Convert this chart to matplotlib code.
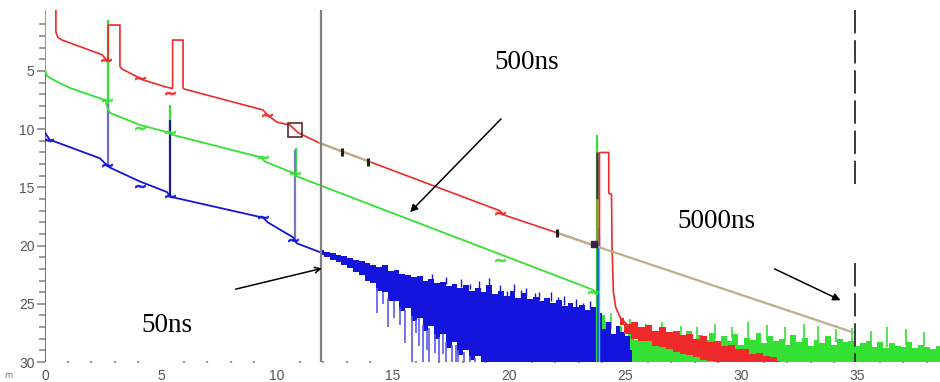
import matplotlib
matplotlib.use("Agg")
import matplotlib.pyplot as plt
import numpy as np
from matplotlib.ticker import FixedLocator

# ---------------- data (distance km, attenuation dB) ----------------
red_x = [0.47, 0.47, 0.55, 0.73, 2.46, 2.63, 2.72, 2.72, 3.23, 3.23, 3.3, 3.97, 4.2, 5.26, 5.5, 5.5,
         5.95, 5.95, 6.0, 9.4, 9.6, 10.0, 10.56, 10.8, 10.9, 11.85, 14.0, 19.6, 19.75, 22.07, 23.6,
         23.9, 23.9, 24.3, 24.3, 24.42, 24.44, 24.5, 24.6, 24.8, 25.1]
red_y = [-0.5, 1.65, 2.1, 2.34, 3.6, 4.0, 4.1, 1.05, 1.05, 4.6, 4.8, 5.5, 5.75, 6.4, 6.5, 2.34,
         2.34, 6.45, 6.55, 8.35, 8.8, 9.4, 9.64, 10.1, 10.3, 11.2, 12.8, 17.0, 17.35, 18.9, 19.95,
         20.1, 12.0, 12.0, 15.5, 15.6, 20.0, 24.0, 25.3, 26.2, 26.8]

green_x = [0.0, 0.0, 0.08, 0.22, 0.6, 1.08, 2.59, 2.72, 2.8, 4.1, 5.26, 5.52, 9.27, 9.5, 10.69,
           10.78, 23.62, 23.8]
green_y = [-0.5, 4.9, 5.4, 5.6, 6.0, 6.46, 7.5, 8.3, 8.6, 9.64, 10.25, 10.5, 12.4, 12.8, 13.76,
           14.0, 23.8, 24.2]

blue_x = [0.0, 0.2, 2.37, 2.67, 2.8, 4.1, 5.26, 5.4, 9.4, 9.6, 10.7, 10.85, 11.9]
blue_y = [10.3, 10.9, 12.5, 13.1, 13.3, 14.5, 15.4, 15.8, 17.6, 18.0, 19.3, 19.8, 20.6]

tan_x1 = [11.85, 14.0]
tan_y1 = [11.2, 12.8]
tan_x2 = [22.07, 23.6, 34.9]
tan_y2 = [18.9, 19.95, 27.5]

# reflective spikes: (x, from, to)
green_spk_x = [2.72, 5.39, 10.8, 23.8]
green_spk_lo = [8.3, 10.3, 14.0, 30.0]
green_spk_hi = [0.6, 7.9, 11.6, 10.5]
blue_spk_x = [2.72, 5.39, 10.78, 23.82]
blue_spk_lo = [13.2, 15.75, 19.5, 30.0]
blue_spk_hi = [7.8, 9.2, 11.8, 18.5]

# blue noise band
blue_nx = [11.9, 12.15, 12.4, 12.65, 12.9, 13.15, 13.4, 13.65, 13.9, 14.15, 14.4, 14.65, 14.9,
           15.15, 15.4, 15.65, 15.9, 16.15, 16.4, 16.65, 16.9, 17.15, 17.4, 17.65, 17.9, 18.15,
           18.4, 18.65, 18.9, 19.15, 19.4, 19.65, 19.9, 20.15, 20.4, 20.65, 20.9, 21.15, 21.4,
           21.65, 21.9, 22.15, 22.4, 22.65, 22.9, 23.15, 23.4, 23.65, 23.9]
blue_ntop = [20.4, 20.55, 20.6, 20.8, 20.9, 21.1, 21.2, 21.3, 21.5, 21.7, 21.8, 21.7, 22.2,
             22.1, 22.4, 22.5, 22.7, 22.6, 23.0, 22.9, 23.2, 23.1, 23.5, 23.3, 23.6, 23.4,
             23.9, 23.6, 24.0, 23.4, 24.2, 23.9, 24.3, 23.9, 24.5, 24.1, 24.6, 24.4, 24.8,
             24.5, 24.9, 24.7, 25.2, 24.9, 25.3, 25.1, 25.5, 25.3, 25.7]
blue_nbot = [20.8, 21.0, 21.2, 21.4, 21.7, 21.9, 22.3, 22.5, 23.0, 23.2, 23.9, 24.0, 24.8,
             24.8, 25.6, 25.4, 26.5, 26.2, 27.3, 26.9, 28.0, 27.6, 28.8, 28.3, 29.4, 29.0,
             29.8, 29.5, 30, 30, 30, 30, 30, 30, 30, 30, 30, 30, 30, 30, 30, 30, 30, 30, 30,
             30, 30, 30, 30]
blue_dn_x = [14.3, 14.55, 14.8, 15.05, 15.3, 15.5, 15.8, 16.0, 16.1, 16.3, 16.45, 16.55, 16.8,
             17.0, 17.15, 17.3, 17.55, 17.7, 17.8, 18.05, 18.3, 18.55]
blue_dn_to = [25.8, 25.0, 27.0, 26.2, 26.8, 28.4, 30, 27.5, 28.6, 30, 29.0, 30, 29.2, 30, 29.3,
              30, 30, 30, 30, 30, 30, 30]
blue_up_x = [16.7, 17.3, 17.95, 18.3, 18.7, 19.15, 19.6, 19.9, 20.2, 20.5, 20.75, 21.1, 21.3,
             21.8, 22.1, 22.35, 22.9, 23.2, 23.5]
blue_up_to = [22.4, 22.7, 22.9, 23.3, 23.0, 22.8, 23.4, 23.9, 23.3, 23.8, 23.6, 24.1, 24.0,
              24.0, 24.4, 24.3, 24.6, 24.9, 24.8]
blue_tail_x = [23.9, 24.1, 24.3, 24.5, 24.7, 24.9, 25.1, 25.3]
blue_tail_top = [25.8, 27.2, 26.6, 27.6, 26.9, 27.4, 27.8, 29.0]

# red noise tail
red_nx = [24.8, 25.1, 25.4, 25.7, 26.0, 26.3, 26.6, 26.9, 27.2, 27.5, 27.8, 28.1, 28.4, 28.7,
          29.0, 29.3, 29.6, 29.9, 30.2, 30.5, 30.8, 31.1, 31.4, 31.7]
red_ntop = [26.2, 26.7, 26.6, 27.0, 26.8, 27.3, 27.0, 27.4, 27.3, 27.7, 27.6, 28.0, 27.8, 28.3,
            28.2, 28.6, 28.5, 28.9, 28.9, 29.3, 29.2, 29.5, 29.6, 29.9]
red_nbot = [26.8, 27.6, 28.0, 28.2, 28.2, 28.6, 28.7, 28.9, 29.1, 29.3, 29.4, 29.6, 29.8, 29.9,
            30, 30, 30, 30, 30, 30, 30, 30, 30, 30]

# green noise floor
green_nx = [24.0, 24.25, 24.5, 24.75, 25.0, 25.25, 25.5, 25.75, 26.0, 26.25, 26.5, 26.75, 27.0,
            27.25, 27.5, 27.75, 28.0, 28.25, 28.5, 28.75, 29.0, 29.25, 29.5, 29.75, 30.0, 30.25,
            30.5, 30.75, 31.0, 31.25, 31.5, 31.75, 32.0, 32.25, 32.5, 32.75, 33.0, 33.25, 33.5,
            33.75, 34.0, 34.25, 34.5, 34.75, 35.0, 35.25, 35.5, 35.75, 36.0, 36.25, 36.5, 36.75,
            37.0, 37.25, 37.5, 37.75, 38.0, 38.25, 38.6]
green_ntop = [26.0, 26.6, 27.6, 26.9, 27.9, 27.2, 28.1, 27.4, 28.0, 27.3, 28.3, 27.6, 28.1,
              27.4, 28.2, 27.3, 28.3, 27.7, 28.1, 27.5, 28.4, 27.8, 28.2, 27.6, 28.5, 27.9,
              28.1, 27.5, 28.4, 27.8, 28.2, 28.0, 28.5, 27.7, 28.3, 27.9, 28.6, 28.1, 28.4,
              27.8, 28.5, 28.0, 28.3, 28.2, 28.6, 28.4, 28.2, 28.7, 28.3, 28.8, 28.4, 28.6,
              28.7, 28.3, 28.8, 28.5, 28.7, 28.9, 28.6]
green_sp_x = [24.4, 25.2, 25.9, 26.6, 27.4, 28.1, 28.9, 29.6, 30.3, 31.1, 31.9, 32.7, 33.3,
              34.1, 34.8, 35.6, 36.3, 37.1, 37.9]
green_sp_to = [25.8, 26.3, 26.7, 26.6, 26.9, 27.0, 26.7, 27.0, 26.6, 26.8, 27.0, 26.7, 26.9,
               27.2, 27.1, 27.3, 27.0, 27.2, 27.4]

# event markers
red_ev_x = [2.63, 4.1, 5.39, 9.57, 19.6]
red_ev_y = [4.06, 5.6, 6.9, 8.8, 17.2]
green_ev_x = [2.67, 4.1, 5.39, 9.4, 10.78, 19.6, 23.6]
green_ev_y = [7.5, 9.9, 10.25, 12.4, 13.8, 21.2, 24.0]
blue_ev_x = [0.15, 2.67, 4.1, 5.39, 9.4, 10.7]
blue_ev_y = [10.9, 13.1, 14.9, 15.75, 17.55, 19.5]
bar_x = [12.8, 13.92, 22.07]
bar_y = [11.95, 12.8, 18.9]

xticks = [0, 5, 10, 15, 20, 25, 30, 35]
yticks = [5, 10, 15, 20, 25, 30]

RED = "#ee2a2a"
GREEN = "#35e035"
BLUE = "#1414dc"
TAN = "#bcae8c"

# ---------------- figure ----------------
fig = plt.figure(figsize=(9.4, 3.82), dpi=100)
ax = fig.add_axes([45 / 940, 20 / 382, 895 / 940, 352 / 382])
ax.set_xlim(0, 895 / 23.2)
ax.set_ylim(30, -0.24)
for s in ax.spines.values():
    s.set_visible(False)

# axis-like red line at launch
ax.axvline(0, color=RED, lw=1.3, zorder=3)
ax.plot([0, 0], [-0.3, 2.8], color="#b8a640", lw=1.6, zorder=4)

# noise bands
ax.fill_between(green_nx, green_ntop, 30, color=GREEN, lw=0, step="mid", zorder=2)
ax.vlines(green_sp_x, np.interp(green_sp_x, green_nx, green_ntop), green_sp_to,
          color=GREEN, lw=1.2, zorder=2)
ax.fill_between(blue_nx, blue_ntop, blue_nbot, color=BLUE, lw=0, step="mid", zorder=3)
ax.fill_between(blue_tail_x, blue_tail_top, 30, color=BLUE, lw=0, step="mid", zorder=2.5)
ax.vlines(blue_dn_x, np.interp(blue_dn_x, blue_nx, blue_nbot), blue_dn_to,
          color="#5a5af0", lw=1.2, zorder=3)
ax.vlines(blue_up_x, np.interp(blue_up_x, blue_nx, blue_ntop), blue_up_to,
          color=BLUE, lw=1.0, zorder=3)
ax.fill_between(red_nx, red_ntop, red_nbot, color=RED, lw=0, step="mid", zorder=4)

# spikes
ax.vlines(green_spk_x, green_spk_lo, green_spk_hi, color=GREEN, lw=1.6, zorder=4)
ax.vlines(blue_spk_x, blue_spk_lo, blue_spk_hi,
          colors=["#6a6ad8", "#1a1aa0", "#7a7ab8", "#2a50e0"], lw=1.6, zorder=4.5)
ax.vlines([23.86], [30], [19.0], color="#30c8e8", lw=1.0, zorder=4.5)
ax.vlines([23.78], [16.0], [12.0], color="#3a3a3a", lw=1.8, zorder=5)
ax.vlines([23.78], [19.9], [16.0], color="#8a9a30", lw=1.8, zorder=5)

# main traces
ax.plot(red_x, red_y, color=RED, lw=1.2, zorder=5)
ax.plot(green_x, green_y, color=GREEN, lw=1.3, zorder=5)
ax.plot(blue_x, blue_y, color=BLUE, lw=1.3, zorder=5)
ax.plot(tan_x1, tan_y1, color=TAN, lw=1.6, zorder=6)
ax.plot(tan_x2, tan_y2, color=TAN, lw=1.6, zorder=6)

# event markers
mk = dict(ls="none", marker="$\\sim$", ms=7, alpha=0.8, zorder=7)
ax.plot(red_ev_x, red_ev_y, color=RED, **mk)
ax.plot(green_ev_x, green_ev_y, color=GREEN, **mk)
ax.plot(blue_ev_x, blue_ev_y, color=BLUE, **mk)
ax.plot([10.78], [10.1], ls="none", marker="s", ms=10, mfc="none", mec="#5a2a2a", mew=1.2, zorder=7)
ax.plot(bar_x, bar_y, ls="none", marker="|", ms=6, mew=2.2, color="#202020", zorder=7)
ax.plot([23.65], [19.9], ls="none", marker="s", ms=4, color="#3a2050", zorder=7)

# vertical cursors
ax.axvline(11.9, color="#808080", lw=1.6, zorder=8)
ax.plot([34.9, 34.9], [-0.24, 15.0], color="#3a3a3a", lw=1.4, dashes=(12, 3.5), zorder=8)
ax.plot([34.9, 34.9], [21.5, 30], color="#3a3a3a", lw=1.4, dashes=(12, 3.5), zorder=8)

# annotations
tfont = dict(family="Liberation Serif", size=19.5, color="black")
ax.text(20.78, 4.3, "500ns", ha="center", va="center", zorder=9, **tfont)
ax.text(28.92, 17.95, "5000ns", ha="center", va="center", zorder=9, **tfont)
ax.text(5.26, 26.9, "50ns", ha="center", va="center", zorder=9, **tfont)
ax.annotate("", xy=(15.65, 17.3), xytext=(19.74, 8.95),
            arrowprops=dict(arrowstyle="-|>", color="black", lw=1.1, mutation_scale=11), zorder=9)
ax.annotate("", xy=(12.05, 21.9), xytext=(8.1, 23.8),
            arrowprops=dict(arrowstyle="->", color="black", lw=1.1, mutation_scale=10), zorder=9)
ax.annotate("", xy=(34.4, 24.8), xytext=(31.34, 21.9),
            arrowprops=dict(arrowstyle="-|>", color="black", lw=1.1, mutation_scale=11), zorder=9)

# ticks
ax.set_yticks(yticks)
ax.set_yticklabels([str(v) for v in yticks])
ax.yaxis.set_minor_locator(FixedLocator([v for v in range(1, 30) if v % 5]))
ax.tick_params(axis="y", which="major", length=6, width=1.2, color="#8a8a8a",
               labelsize=10, labelcolor="#555555", pad=1.5)
ax.tick_params(axis="y", which="minor", length=4, width=1.2, color="#8a8a8a")
ax.set_xticks(xticks)
ax.set_xticklabels([str(v) for v in xticks])
ax.xaxis.set_minor_locator(FixedLocator([v for v in range(1, 39) if v % 5]))
ax.tick_params(axis="x", which="major", length=0, labelsize=10, labelcolor="#555555", pad=5)
ax.tick_params(axis="x", which="minor", length=2, width=1.6, color="#9a9a9a", direction="inout")
for lbl in ax.get_xticklabels() + ax.get_yticklabels():
    lbl.set_family("Liberation Sans")

fig.text(8 / 940, 1 - 375 / 382, "m", fontsize=6, color="#777777", ha="center", va="center")

fig.savefig("out.png", dpi=100)
